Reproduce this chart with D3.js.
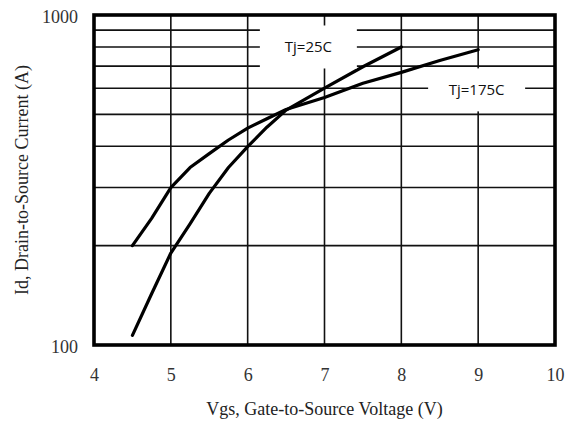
<!DOCTYPE html>
<html>
<head>
<meta charset="utf-8">
<script src="https://cdn.jsdelivr.net/npm/d3@7"></script>
<style>
  html, body { margin: 0; padding: 0; background: #fff; }
  svg { display: block; }
</style>
</head>
<body>
<svg id="chart" width="572" height="421"></svg>
<script>
// Transfer characteristics: drain current vs gate-source voltage
const vgsTicks = [4, 5, 6, 7, 8, 9, 10];
const idTickLabels = [100, 1000];
const idGrid = [200, 300, 400, 500, 600, 700, 800, 900];

const vgs25 = [4.5, 4.75, 5.0, 5.25, 5.5, 5.75, 6.0, 6.25, 6.5, 7.0, 7.5, 8.0];
const id25  = [107, 143, 190, 233, 288, 345, 399, 457, 515, 600, 697, 800];

const vgs175 = [4.5, 4.75, 5.0, 5.25, 5.5, 5.75, 6.0, 6.25, 6.5, 7.0, 7.5, 8.0, 8.5, 9.0];
const id175  = [200, 242, 300, 345, 380, 418, 454, 485, 517, 562, 621, 670, 728, 785];

const seriesNames = ["Tj=25C", "Tj=175C"];
// label anchors (Vgs, Id) for each series name
const labelVgs = [6.79, 8.98];
const labelId  = [800, 593];

const svg = d3.select("#chart");
const plotL = 94, plotR = 555, plotT = 15, plotB = 345;

const x = d3.scaleLinear().domain([4, 10]).range([plotL, plotR]);
const y = d3.scaleLog().domain([100, 1000]).range([plotB, plotT]);

const serif = "'Liberation Serif', 'Times New Roman', serif";

// grid
const grid = svg.append("g").attr("stroke", "#111").attr("stroke-width", 1.6);
grid.selectAll("line.v").data(vgsTicks.slice(1, -1)).join("line")
  .attr("class", "v")
  .attr("x1", d => x(d)).attr("x2", d => x(d))
  .attr("y1", plotT).attr("y2", plotB);
grid.selectAll("line.h").data(idGrid).join("line")
  .attr("class", "h")
  .attr("x1", plotL).attr("x2", plotR)
  .attr("y1", d => y(d)).attr("y2", d => y(d));

// curves
const line = d3.line().x(d => x(d[0])).y(d => y(d[1]));
const curves = [d3.zip(vgs25, id25), d3.zip(vgs175, id175)];
svg.append("g").selectAll("path").data(curves).join("path")
  .attr("d", line)
  .attr("fill", "none")
  .attr("stroke", "#000")
  .attr("stroke-width", 3.2)
  .attr("stroke-linejoin", "round")
  .attr("stroke-linecap", "round");

// series labels on white boxes
const boxW = 97, boxH = 43;
const lab = svg.append("g").selectAll("g").data(seriesNames).join("g")
  .attr("transform", (d, i) => `translate(${x(labelVgs[i])},${y(labelId[i])})`);
lab.append("rect")
  .attr("x", -boxW / 2).attr("y", -boxH / 2)
  .attr("width", boxW).attr("height", boxH)
  .attr("fill", "#fff");
lab.append("text")
  .attr("text-anchor", "middle")
  .attr("dy", "0.36em")
  .attr("font-family", "'Open Sans', sans-serif")
  .attr("font-size", 15)
  .attr("fill", "#111")
  .text(d => d);

// frame
svg.append("rect")
  .attr("x", plotL).attr("y", plotT)
  .attr("width", plotR - plotL).attr("height", plotB - plotT)
  .attr("fill", "none").attr("stroke", "#000").attr("stroke-width", 3.6);

// x axis labels
const xAxis = d3.axisBottom(x).tickValues(vgsTicks).tickSize(0).tickPadding(0).tickFormat(d3.format("d"));
const gx = svg.append("g").attr("transform", `translate(0,${plotB})`).call(xAxis);
gx.select(".domain").remove();
gx.selectAll("text")
  .attr("font-family", serif).attr("font-size", 18).attr("fill", "#333")
  .attr("y", 36).attr("dy", 0);

// y axis labels
const yAxis = d3.axisLeft(y).tickValues(idTickLabels).tickSize(0).tickPadding(0).tickFormat(d3.format("d"));
const gy = svg.append("g").attr("transform", `translate(${plotL - 16},0)`).call(yAxis);
gy.select(".domain").remove();
gy.selectAll("text")
  .attr("font-family", serif).attr("font-size", 18).attr("fill", "#333")
  .attr("x", 0).attr("dy", "0.4em");

// axis titles
svg.append("text")
  .attr("x", (plotL + plotR) / 2).attr("y", 415)
  .attr("text-anchor", "middle")
  .attr("font-family", serif).attr("font-size", 18).attr("fill", "#222")
  .text("Vgs, Gate-to-Source Voltage (V)");
svg.append("text")
  .attr("transform", `translate(28,${(plotT + plotB) / 2}) rotate(-90)`)
  .attr("text-anchor", "middle")
  .attr("font-family", serif).attr("font-size", 18).attr("fill", "#222")
  .text("Id, Drain-to-Source Current (A)");
</script>
</body>
</html>
